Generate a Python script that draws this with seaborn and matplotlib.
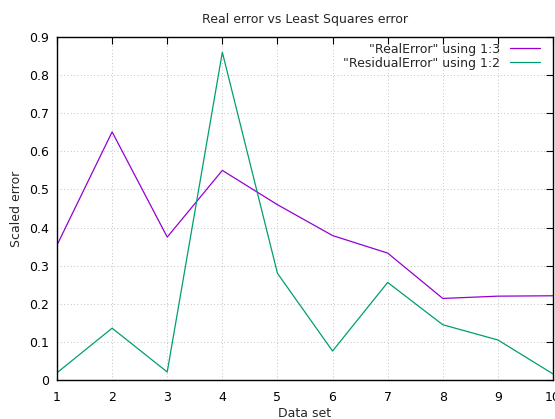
import numpy as np
import pandas as pd
import matplotlib
matplotlib.use("Agg")
import matplotlib.pyplot as plt
import seaborn as sns
from matplotlib.ticker import FuncFormatter

# values
data_set = [1, 2, 3, 4, 5, 6, 7, 8, 9, 10]
real_error = [0.354, 0.651, 0.375, 0.550, 0.460, 0.379, 0.333, 0.214, 0.220, 0.221]
residual_error = [0.019, 0.136, 0.021, 0.860, 0.280, 0.076, 0.256, 0.145, 0.105, 0.016]
series_names = ['"RealError" using 1:3', '"ResidualError" using 1:2']
series_colors = ["#9400d3", "#009e73"]

df = pd.DataFrame({
    "x": data_set * 2,
    "y": real_error + residual_error,
    "series": [series_names[0]] * 10 + [series_names[1]] * 10,
})

sns.set_style("white")
plt.rcParams["font.family"] = ["DejaVu Sans"]

fig = plt.figure(figsize=(5.55, 4.19), dpi=100)
ax = fig.add_axes([57 / 555, 1 - 380 / 419, (553 - 57) / 555, (380 - 37) / 419])

sns.lineplot(data=df, x="x", y="y", hue="series", palette=series_colors,
             linewidth=0.9, ax=ax)

ax.set_xlim(1, 10)
ax.set_ylim(0, 0.9)
ax.set_xticks(data_set)
ax.set_yticks(np.arange(0, 0.91, 0.1))
ax.yaxis.set_major_formatter(FuncFormatter(lambda v, p: "%g" % round(v, 1)))
ax.tick_params(direction="in", length=5, width=0.8, labelsize=9,
               top=True, right=True, pad=6, colors="black")
ax.tick_params(axis="x", pad=8)
ax.grid(True, linestyle=(0, (1, 3)), color="#b0b0b0", linewidth=0.6)
for s in ax.spines.values():
    s.set_color("black")
    s.set_linewidth(1.0)

ax.set_title("Real error vs Least Squares error", fontsize=9, pad=10)
ax.set_xlabel("Data set", fontsize=9, labelpad=2)
ax.set_ylabel("Scaled error", fontsize=9, labelpad=4)

ax.legend(loc="upper right", frameon=False, markerfirst=False, fontsize=9,
          handlelength=2.4, borderaxespad=0.25, borderpad=0.2,
          labelspacing=0.1, handletextpad=0.8, bbox_to_anchor=(0.985, 1.0))

fig.savefig("out.png", dpi=100)
